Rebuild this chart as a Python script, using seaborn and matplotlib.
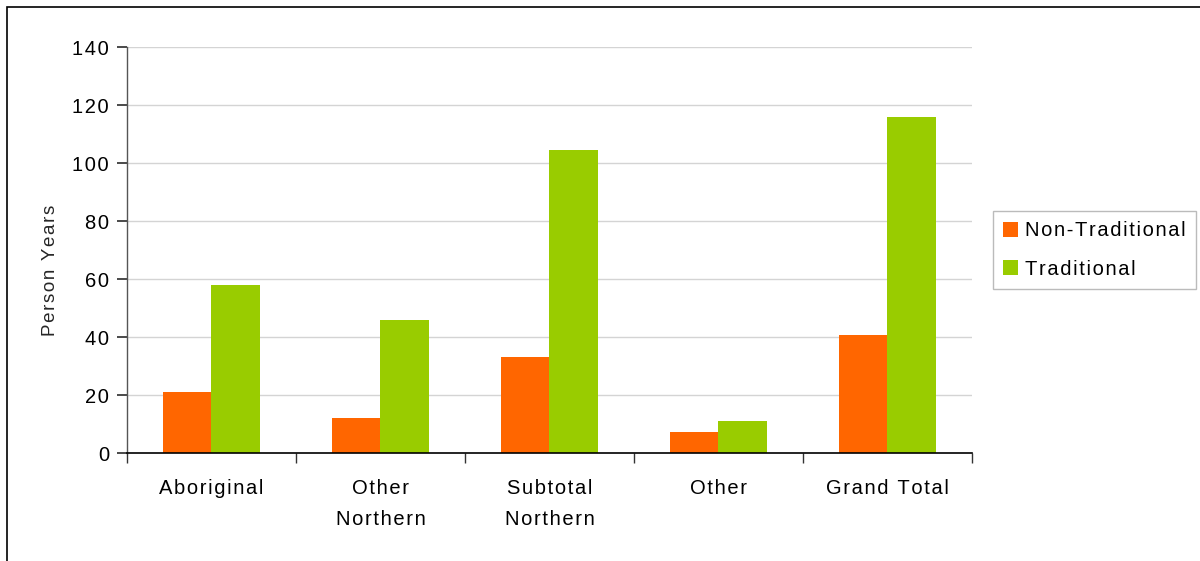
import matplotlib
matplotlib.use("Agg")
import matplotlib.pyplot as plt
import seaborn as sns
import pandas as pd
import numpy as np
from matplotlib.patches import Rectangle

categories = ["Aboriginal", "Other\nNorthern", "Subtotal\nNorthern", "Other", "Grand Total"]
non_traditional = [21, 12, 33, 7.2, 40.7]
traditional = [58, 46, 104.5, 11, 116]
series = ["Non-Traditional", "Traditional"]
colors = ["#ff6600", "#99cc00"]

df = pd.DataFrame({
    "cat": categories * 2,
    "series": [series[0]] * 5 + [series[1]] * 5,
    "value": non_traditional + traditional,
})

HS = "\u200a"  # hair space, to mimic the wide letter spacing


def spaced(s):
    return "\n".join(HS.join(line) for line in s.split("\n"))


sns.set_theme(style="white")
plt.rcParams["font.family"] = ["Liberation Sans", "DejaVu Sans"]
plt.rcParams["text.color"] = "black"
plt.rcParams["xtick.color"] = "black"
plt.rcParams["ytick.color"] = "black"

fig = plt.figure(figsize=(12, 5.61), dpi=100)
ax = fig.add_axes([0.1058, 0.1925, 0.7042, 0.7237])

sns.barplot(data=df, x="cat", y="value", hue="series", palette=colors,
            width=0.57, gap=0, saturation=1, ax=ax, order=categories,
            linewidth=0, edgecolor="none")

ax.set_ylim(0, 140)
ax.set_yticks(np.arange(0, 141, 20))
ax.set_yticklabels([spaced(str(v)) for v in range(0, 141, 20)])
ax.set_xlim(-0.5, 4.5)
ax.yaxis.grid(True, color="#d4d4d4", linewidth=1)
ax.set_axisbelow(True)

for s in ["top", "right"]:
    ax.spines[s].set_visible(False)
ax.spines["left"].set_color("#555555")
ax.spines["bottom"].set_color("black")
ax.spines["left"].set_linewidth(1)
ax.spines["bottom"].set_linewidth(1.2)

ax.set_xticks(np.arange(5))
ax.set_xticklabels([spaced(c) for c in categories], fontsize=14.5, linespacing=1.75)
ax.tick_params(axis="x", length=0, pad=19)
ax.set_xticks(np.arange(-0.5, 5, 1), minor=True)
ax.tick_params(axis="x", which="minor", length=7, color="#333333", bottom=True)
ax.tick_params(axis="y", length=7, left=True, color="#333333", labelsize=14.5, pad=6)
ax.set_xlabel("")
ax.set_ylabel(spaced("Person Years"), fontsize=13.5)
ax.yaxis.set_label_coords(-0.081, 0.45)

handles, labels = ax.get_legend_handles_labels()
leg = ax.legend(handles, [spaced(l) for l in labels], loc="center left",
                bbox_to_anchor=(1.025, 0.5), frameon=True,
                fontsize=14.5, handlelength=0.75, handleheight=0.75, handletextpad=0.35,
                borderpad=0.5, labelspacing=0.95, fancybox=False, borderaxespad=0)
leg.get_frame().set_edgecolor("#aaaaaa")
leg.get_frame().set_linewidth(1)

fig.patches.append(Rectangle((7 / 1200, -0.1), 1.2, 1 - 7 / 561 + 0.1,
                             transform=fig.transFigure, fill=False,
                             edgecolor="black", linewidth=1.2))

fig.savefig("out.png", dpi=100)
